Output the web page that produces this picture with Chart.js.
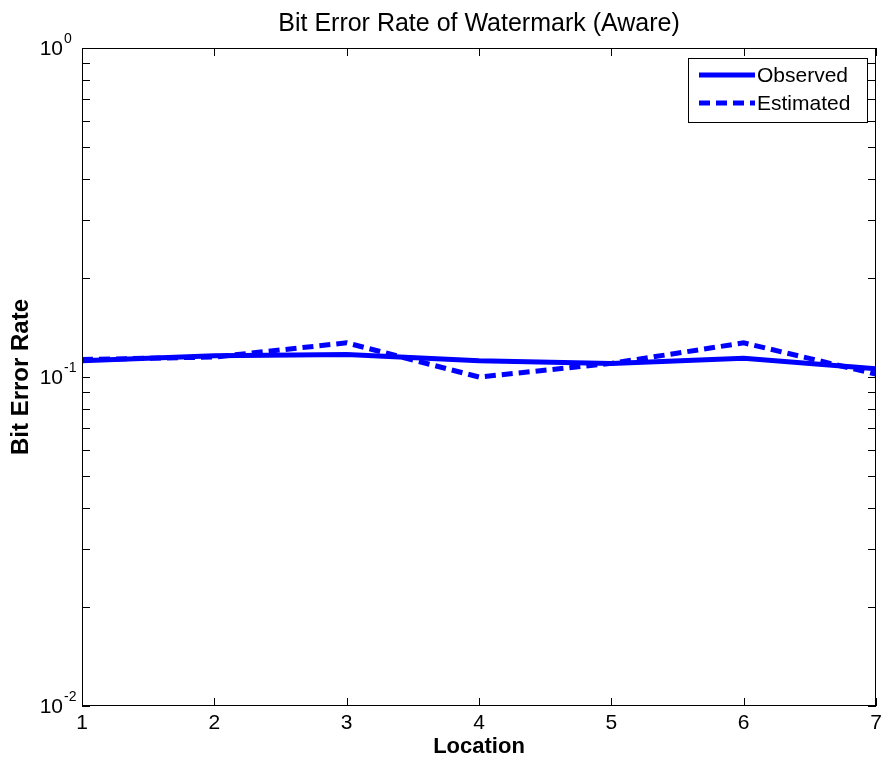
<!DOCTYPE html>
<html>
<head>
<meta charset="utf-8">
<script src="https://cdn.jsdelivr.net/npm/chart.js@4"></script>
<style>
  html, body { margin: 0; padding: 0; background: #fff; }
  #ber { display: block; }
</style>
</head>
<body>
<canvas id="ber" width="882" height="765"></canvas>
<script>
// 観測値と推定値 (位置ごとのビット誤り率)
const locations = [1, 2, 3, 4, 5, 6, 7];
const observed  = [0.112, 0.116, 0.117, 0.112, 0.110, 0.114, 0.106];
const estimated = [0.113, 0.115, 0.127, 0.100, 0.110, 0.127, 0.102];
const yTickExps = [-2, -1, 0];

const FONT = '"Liberation Sans", Arial, sans-serif';
const BLUE = '#0000ff';

// MATLAB風の枠・目盛り・ラベル・凡例を描く
const matlabAxes = {
  id: 'matlabAxes',
  afterDatasetsDraw(chart) {
    const { ctx, chartArea: a, scales } = chart;
    const xs = scales.x, ys = scales.y;
    const tl = 8;
    ctx.save();
    ctx.strokeStyle = '#000';
    ctx.lineWidth = 1;
    ctx.strokeRect(a.left + 0.5, a.top + 0.5, a.right - a.left - 1, a.bottom - a.top - 1);

    ctx.beginPath();
    locations.forEach(v => {
      const px = Math.round(xs.getPixelForValue(v)) + 0.5;
      ctx.moveTo(px, a.bottom); ctx.lineTo(px, a.bottom - tl);
      ctx.moveTo(px, a.top); ctx.lineTo(px, a.top + tl);
    });
    for (let e = yTickExps[0]; e < yTickExps[yTickExps.length - 1]; e++) {
      for (let k = 1; k <= 10; k++) {
        const py = Math.round(ys.getPixelForValue(k * Math.pow(10, e))) + 0.5;
        ctx.moveTo(a.left, py); ctx.lineTo(a.left + tl, py);
        ctx.moveTo(a.right, py); ctx.lineTo(a.right - tl, py);
      }
    }
    ctx.stroke();

    // x 目盛りラベル
    ctx.fillStyle = '#000';
    ctx.font = '21px ' + FONT;
    ctx.textAlign = 'center';
    ctx.textBaseline = 'top';
    locations.forEach(v => ctx.fillText(String(v), xs.getPixelForValue(v), a.bottom + 7));

    // y 目盛りラベル 10^n
    yTickExps.forEach(e => {
      const py = ys.getPixelForValue(Math.pow(10, e));
      ctx.font = '21px ' + FONT;
      ctx.textAlign = 'right';
      ctx.textBaseline = 'middle';
      ctx.fillText('10', 63, py + 1);
      ctx.font = '14px ' + FONT;
      ctx.textAlign = 'left';
      ctx.fillText(String(e), 64, py - 9);
    });

    // タイトルと軸ラベル
    const cx = (a.left + a.right) / 2;
    const cy = (a.top + a.bottom) / 2;
    ctx.textAlign = 'center';
    ctx.textBaseline = 'alphabetic';
    ctx.font = '25px ' + FONT;
    ctx.fillText('Bit Error Rate of Watermark (Aware)', cx, 31);
    ctx.font = 'bold 22px ' + FONT;
    ctx.fillText('Location', cx, 753);
    ctx.save();
    ctx.translate(28, cy);
    ctx.rotate(-Math.PI / 2);
    ctx.font = 'bold 24px ' + FONT;
    ctx.fillText('Bit Error Rate', 0, 0);
    ctx.restore();

    // 凡例
    const lx = 688, ly = 58, lw = 179, lh = 64;
    ctx.fillStyle = '#fff';
    ctx.fillRect(lx, ly, lw, lh);
    ctx.strokeRect(lx + 0.5, ly + 0.5, lw, lh);
    chart.data.datasets.forEach((ds, i) => {
      const yy = ly + 17 + i * 28;
      ctx.beginPath();
      ctx.strokeStyle = ds.borderColor;
      ctx.lineWidth = ds.borderWidth;
      ctx.setLineDash(ds.borderDash || []);
      ctx.moveTo(699, yy); ctx.lineTo(755, yy);
      ctx.stroke();
      ctx.setLineDash([]);
      ctx.fillStyle = '#000';
      ctx.font = '21px ' + FONT;
      ctx.textAlign = 'left';
      ctx.textBaseline = 'middle';
      ctx.fillText(ds.label, 757, yy + 1);
    });
    ctx.restore();
  }
};

const ctx = document.getElementById('ber').getContext('2d');
new Chart(ctx, {
  type: 'line',
  data: {
    datasets: [
      {
        label: 'Observed',
        data: locations.map((x, i) => ({ x: x, y: observed[i] })),
        borderColor: BLUE,
        borderWidth: 5,
        pointRadius: 0,
        tension: 0
      },
      {
        label: 'Estimated',
        data: locations.map((x, i) => ({ x: x, y: estimated[i] })),
        borderColor: BLUE,
        borderWidth: 5,
        borderDash: [11, 6],
        pointRadius: 0,
        tension: 0
      }
    ]
  },
  options: {
    responsive: false,
    animation: false,
    devicePixelRatio: 1,
    layout: { padding: { left: 82, top: 48, right: 6, bottom: 59 } },
    plugins: { legend: { display: false }, title: { display: false }, tooltip: { enabled: false } },
    scales: {
      x: { type: 'linear', min: 1, max: 7, display: false },
      y: { type: 'logarithmic', min: 0.01, max: 1, display: false }
    }
  },
  plugins: [matlabAxes]
});
</script>
</body>
</html>
